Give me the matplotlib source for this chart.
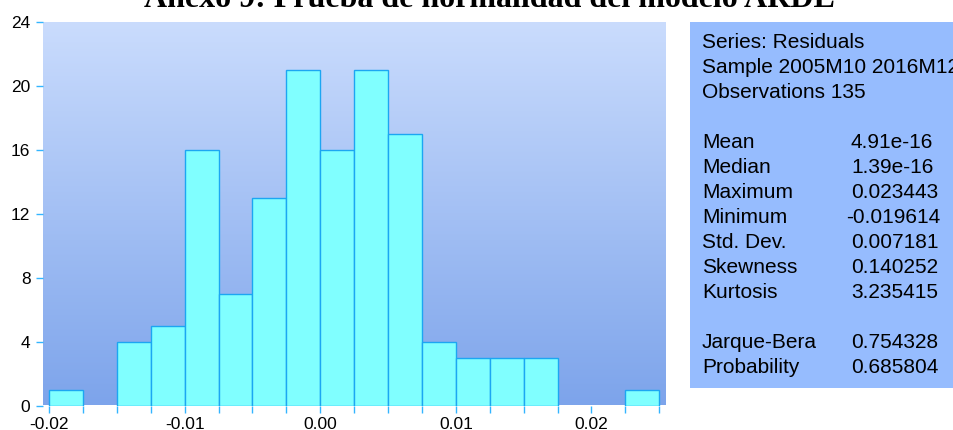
import numpy as np
import matplotlib.pyplot as plt
from matplotlib.colors import LinearSegmentedColormap
from matplotlib.patches import Rectangle

# histogram of residuals, bin width 0.0025 starting at -0.02
bin_width = 0.0025
bin_start = -0.02
counts = [1, 0, 4, 5, 16, 7, 13, 21, 16, 21, 17, 4, 3, 3, 3, 0, 0, 1]

x_ticks = [-0.02, -0.01, 0.00, 0.01, 0.02]
x_labels = ['-0.02', '-0.01', '0.00', '0.01', '0.02']
y_ticks = [0, 4, 8, 12, 16, 20, 24]

stat_header = ['Series: Residuals', 'Sample 2005M10 2016M12', 'Observations 135']
stat_names = ['Mean', 'Median', 'Maximum', 'Minimum', 'Std. Dev.', 'Skewness', 'Kurtosis',
              '', 'Jarque-Bera', 'Probability']
stat_values = ['4.91e-16', '1.39e-16', '0.023443', '-0.019614', '0.007181', '0.140252',
               '3.235415', '', '0.754328', '0.685804']

title = 'Anexo 9: Prueba de normalidad del modelo ARDL'

W, H = 954, 430
fig = plt.figure(figsize=(W / 100, H / 100), dpi=100)
ax = fig.add_axes([43 / W, (H - 405.5) / H, (666 - 43) / W, (405.5 - 22) / H])

edges = bin_start + bin_width * np.arange(len(counts))
counts = np.array(counts)
keep = counts > 0
ax.bar(edges[keep], counts[keep], width=bin_width, align='edge',
       color='#80FFFF', edgecolor='#1CA6F2', linewidth=1.0, zorder=2)

xlim = (-0.02045, 0.0255)
ax.set_xlim(xlim)
ax.set_ylim(0, 24)

# gradient background
cmap = LinearSegmentedColormap.from_list('bg', ['#7DA4EB', '#CADCFD'])
grad = np.linspace(0, 1, 256).reshape(-1, 1)
ax.imshow(grad, cmap=cmap, origin='lower', aspect='auto',
          extent=[xlim[0], xlim[1], 0, 24], zorder=0)

for s in ax.spines.values():
    s.set_visible(False)

ax.set_yticks(y_ticks)
ax.set_xticks(x_ticks)
ax.set_xticklabels(x_labels)
ax.set_xticks(np.arange(bin_start, 0.02501, bin_width), minor=True)
ax.tick_params(axis='both', which='both', color='#33B5FF', length=5, width=1,
               labelsize=12.5, labelcolor='black', direction='out')
ax.tick_params(axis='y', pad=4)
ax.tick_params(axis='x', pad=3)
for lab in ax.get_xticklabels() + ax.get_yticklabels():
    lab.set_family('Liberation Sans')

# title sits partly above the top edge, as in the reference
fig.text(489 / W, 1 - 7 / H, title, ha='center', va='baseline',
         family='Liberation Serif', weight='bold', fontsize=23)

# stats panel
fig.patches.append(Rectangle((690 / W, (H - 388) / H), (W - 690) / W, (388 - 22) / H,
                             transform=fig.transFigure, facecolor='#96BCFE',
                             edgecolor='none', zorder=0))
fs = 15
for i, line in enumerate(stat_header):
    fig.text(702 / W, 1 - (48 + 25 * i) / H, line, ha='left', va='baseline',
             family='Liberation Sans', fontsize=fs)
for i, (name, val) in enumerate(zip(stat_names, stat_values)):
    y = 1 - (148 + 25 * i) / H
    if name:
        fig.text(702 / W, y, name, ha='left', va='baseline',
                 family='Liberation Sans', fontsize=fs)
    if val:
        xv = 846 if val.startswith('-') else 851
        fig.text(xv / W, y, val, ha='left', va='baseline',
                 family='Liberation Sans', fontsize=fs)

fig.savefig('out.png', dpi=100)
